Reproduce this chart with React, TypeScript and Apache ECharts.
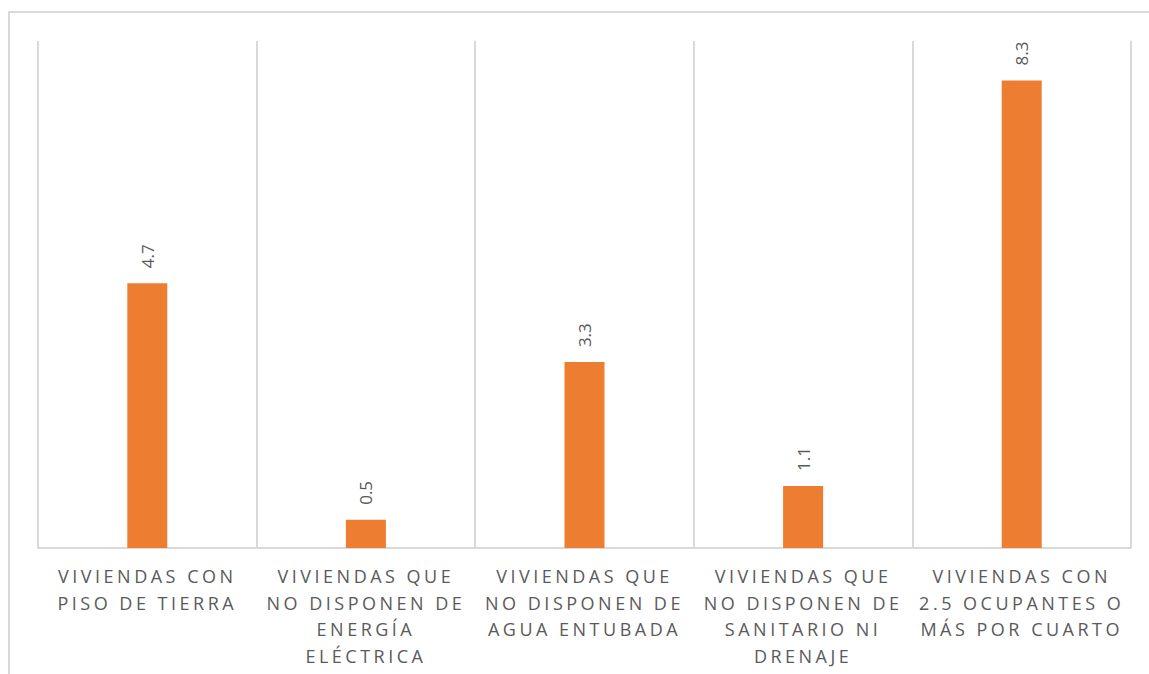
import React, { useEffect, useRef } from "react";
import * as echarts from "echarts";

const categories: string[] = [
  "VIVIENDAS CON\nPISO DE TIERRA",
  "VIVIENDAS QUE\nNO DISPONEN DE\nENERGÍA\nELÉCTRICA",
  "VIVIENDAS QUE\nNO DISPONEN DE\nAGUA ENTUBADA",
  "VIVIENDAS QUE\nNO DISPONEN DE\nSANITARIO NI\nDRENAJE",
  "VIVIENDAS CON\n2.5 OCUPANTES O\nMÁS POR CUARTO",
];
const values: number[] = [4.7, 0.5, 3.3, 1.1, 8.3];
const yMax = 9;

const CAT_COLOR = "#5a5a5a";
const LABEL_COLOR = "#595959";

export default function App() {
  const ref = useRef<HTMLDivElement>(null);
  useEffect(() => {
    document.body.style.margin = "0";
    if (!ref.current) return;
    const chart = echarts.init(ref.current, undefined, { renderer: "svg" });
    chart.setOption({
      animation: false,
      backgroundColor: "#ffffff",
      graphic: [
        {
          type: "rect",
          shape: { x: 9, y: 12, width: 1200, height: 700 },
          style: { fill: "none", stroke: "#d9d9d9", lineWidth: 2 },
          silent: true,
        },
      ],
      grid: { left: 38, right: 18, top: 41, bottom: 126, containLabel: false },
      xAxis: {
        type: "category",
        data: categories,
        axisLine: { show: true, lineStyle: { color: "#d9d9d9", width: 2 } },
        axisTick: { show: false },
        splitLine: { show: true, lineStyle: { color: "#d9d9d9", width: 2 } },
        axisLabel: {
          interval: 0,
          color: CAT_COLOR,
          fontFamily: "Open Sans",
          fontSize: 18,
          lineHeight: 26.5,
          margin: 15,
        },
      },
      yAxis: {
        type: "value",
        min: 0,
        max: yMax,
        show: false,
        splitLine: { show: false },
      },
      series: [
        {
          type: "bar",
          data: values,
          barWidth: 40,
          itemStyle: { color: "#ED7D31" },
          label: {
            show: true,
            position: "top",
            rotate: 90,
            align: "left",
            verticalAlign: "middle",
            distance: 15,
            color: LABEL_COLOR,
            fontFamily: "Open Sans",
            fontSize: 17,
            formatter: (p: any) => p.value.toFixed(1),
          },
        },
      ],
    });
    return () => chart.dispose();
  }, []);
  return (
    <>
      <style>{`.cat-chart text[fill="${CAT_COLOR}"] { letter-spacing: 3.5px; }`}</style>
      <div className="cat-chart" ref={ref} style={{ width: 1149, height: 674 }} />
    </>
  );
}
